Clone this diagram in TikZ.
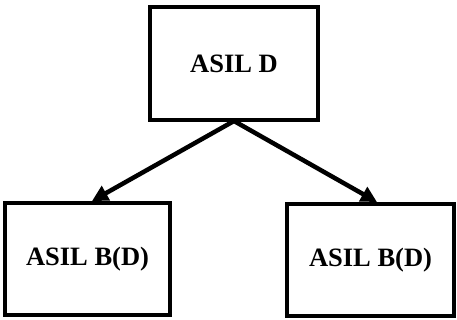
\documentclass[tikz,border=0pt]{standalone}
\usepackage{fontspec}
\setmainfont{Liberation Serif}
\usetikzlibrary{arrows.meta}
\begin{document}
\begin{tikzpicture}[x=1pt,y=-1pt,
  level/.style={draw=black,line width=4pt,minimum width=#1,inner sep=0pt,
    font=\fontsize{26.5}{30}\selectfont\bfseries},
  link/.style={line width=4.5pt,-{Triangle[length=16pt,width=16pt]}}]
  \useasboundingbox (0,0) rectangle (457,320);
  \node[level=168pt,minimum height=112.5pt] (top) at (234,63.75) {ASIL D};
  \node[level=165pt,minimum height=112pt] (left) at (87.5,259) {ASIL B(D)};
  \node[level=167pt,minimum height=112pt] (right) at (370.5,260) {ASIL B(D)};
  % arrows leave the middle of the upper box and land a little off-centre
  \draw[link] ([yshift=1pt]top.south) -- ([xshift=4.5pt]left.north);
  \draw[link] ([yshift=1pt]top.south) -- ([xshift=6.5pt]right.north);
\end{tikzpicture}
\end{document}
